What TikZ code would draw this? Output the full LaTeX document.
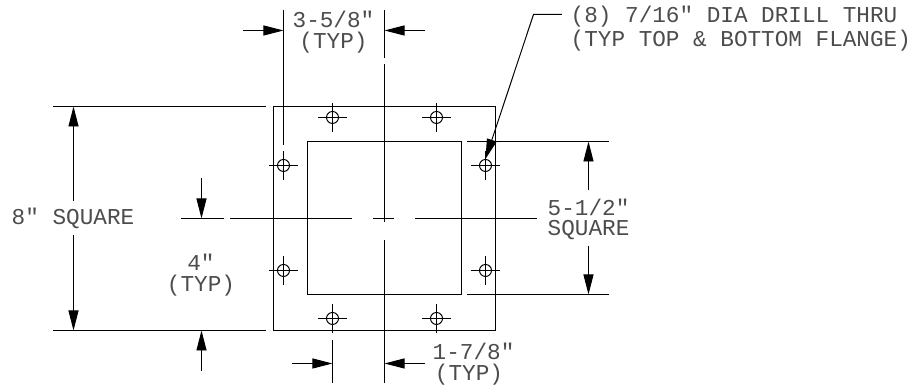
\documentclass[tikz,border=0pt]{standalone}
\usepackage{fontspec}
\setmainfont{Liberation Mono}
\usetikzlibrary{arrows.meta, positioning}

\tikzset{
  dimline/.style={line width=0.28pt, -{Triangle[length=2mm, width=1mm]}},
  cadline/.style={line width=0.28pt},
  cadtext/.style={font=\fontsize{6.45}{7.7}\selectfont, inner sep=0pt, text=black!70},
}

\begin{document}
\begin{tikzpicture}[x=0.01cm, y=-0.01cm]
        \useasboundingbox (0,0) rectangle (914,386);

        % Flange outline and inner opening
        \draw[cadline] (273.5,106.5) rectangle (495.5,330.5);
        \draw[cadline] (307.5,141.5) rectangle (461.5,294.5);

        % Drill holes
        \foreach \x/\y/\n in {332.5/117.5/a,436.5/117.5/b,283.5/165.5/c,485.5/165.5/d,283.5/270.5/e,485.5/270.5/f,332.5/318.5/g,436.5/318.5/h} {
            \coordinate (hole\n) at (\x,\y);
            \draw[cadline] (hole\n) circle (6);
            \draw[cadline] (\x-14.5,\y) -- (\x+14.5,\y);
            \draw[cadline] (\x,\y-14.5) -- (\x,\y+14.5);
        }

        % Centre lines
        \draw[cadline] (384.5,10) -- (384.5,58);
        \draw[cadline] (384.5,64.5) -- (384.5,222);
        \draw[cadline] (384.5,240.5) -- (384.5,383);
        \draw[cadline] (181,218.5) -- (224,218.5);
        \draw[cadline] (230,218.5) -- (352.5,218.5);
        \draw[cadline] (373.5,218.5) -- (394.5,218.5);
        \draw[cadline] (415.5,218.5) -- (537.5,218.5);

        % Extension lines
        \draw[cadline] (53,106.5) -- (266,106.5);
        \draw[cadline] (53,330.5) -- (266,330.5);
        \draw[cadline] (467.5,141.5) -- (609,141.5);
        \draw[cadline] (467.5,294.5) -- (609,294.5);
        \draw[cadline] (283.5,10) -- (283.5,145);
        \draw[cadline] (332.5,340) -- (332.5,383);

        % 3-5/8 dimension
        \draw[dimline] (243,30.5) -- (283.5,30.5);
        \draw[dimline] (425,30.5) -- (384.5,30.5);
        \node[cadtext] (holetop) at (333.5,19) {3-5/8″};
        \node[cadtext] (holetoptyp) at (333.5,43) {(TYP)};

        % 8 inch dimension
        \draw[dimline] (73.5,201.5) -- (73.5,106.5);
        \draw[dimline] (73.5,235) -- (73.5,330.5);
        \node[cadtext] (outer) at (73,218) {8″ SQUARE};

        % 4 inch dimension
        \draw[dimline] (201.5,178.5) -- (201.5,218.5);
        \draw[dimline] (201.5,371) -- (201.5,330.5);
        \node[cadtext] (half) at (201,262) {4″};
        \node[cadtext] (halftyp) at (201,286) {(TYP)};

        % 5-1/2 dimension
        \draw[dimline] (588.5,190) -- (588.5,141.5);
        \draw[dimline] (588.5,246.5) -- (588.5,294.5);
        \node[cadtext, anchor=west] (inner) at (547,207) {5-1/2″};
        \node[cadtext, anchor=west] (innersq) at (547,230) {SQUARE};

        % 1-7/8 dimension
        \draw[dimline] (292,363.5) -- (332.5,363.5);
        \draw[dimline] (425,363.5) -- (384.5,363.5);
        \node[cadtext, anchor=west] (holeside) at (432,351) {1-7/8″};
        \node[cadtext] (holesidetyp) at (469,375) {(TYP)};

        % Drill note with leader
        \node[cadtext, anchor=west] (note) at (570,16.5) {(8) 7/16″ DIA DRILL THRU};
        \node[cadtext, anchor=west] (notetwo) at (570,40.5) {(TYP TOP \& BOTTOM FLANGE)};
        \draw[dimline] (note.west) ++(-8,-2) -- (533.5,14.5) -- (485.5,159);
\end{tikzpicture}
\end{document}
